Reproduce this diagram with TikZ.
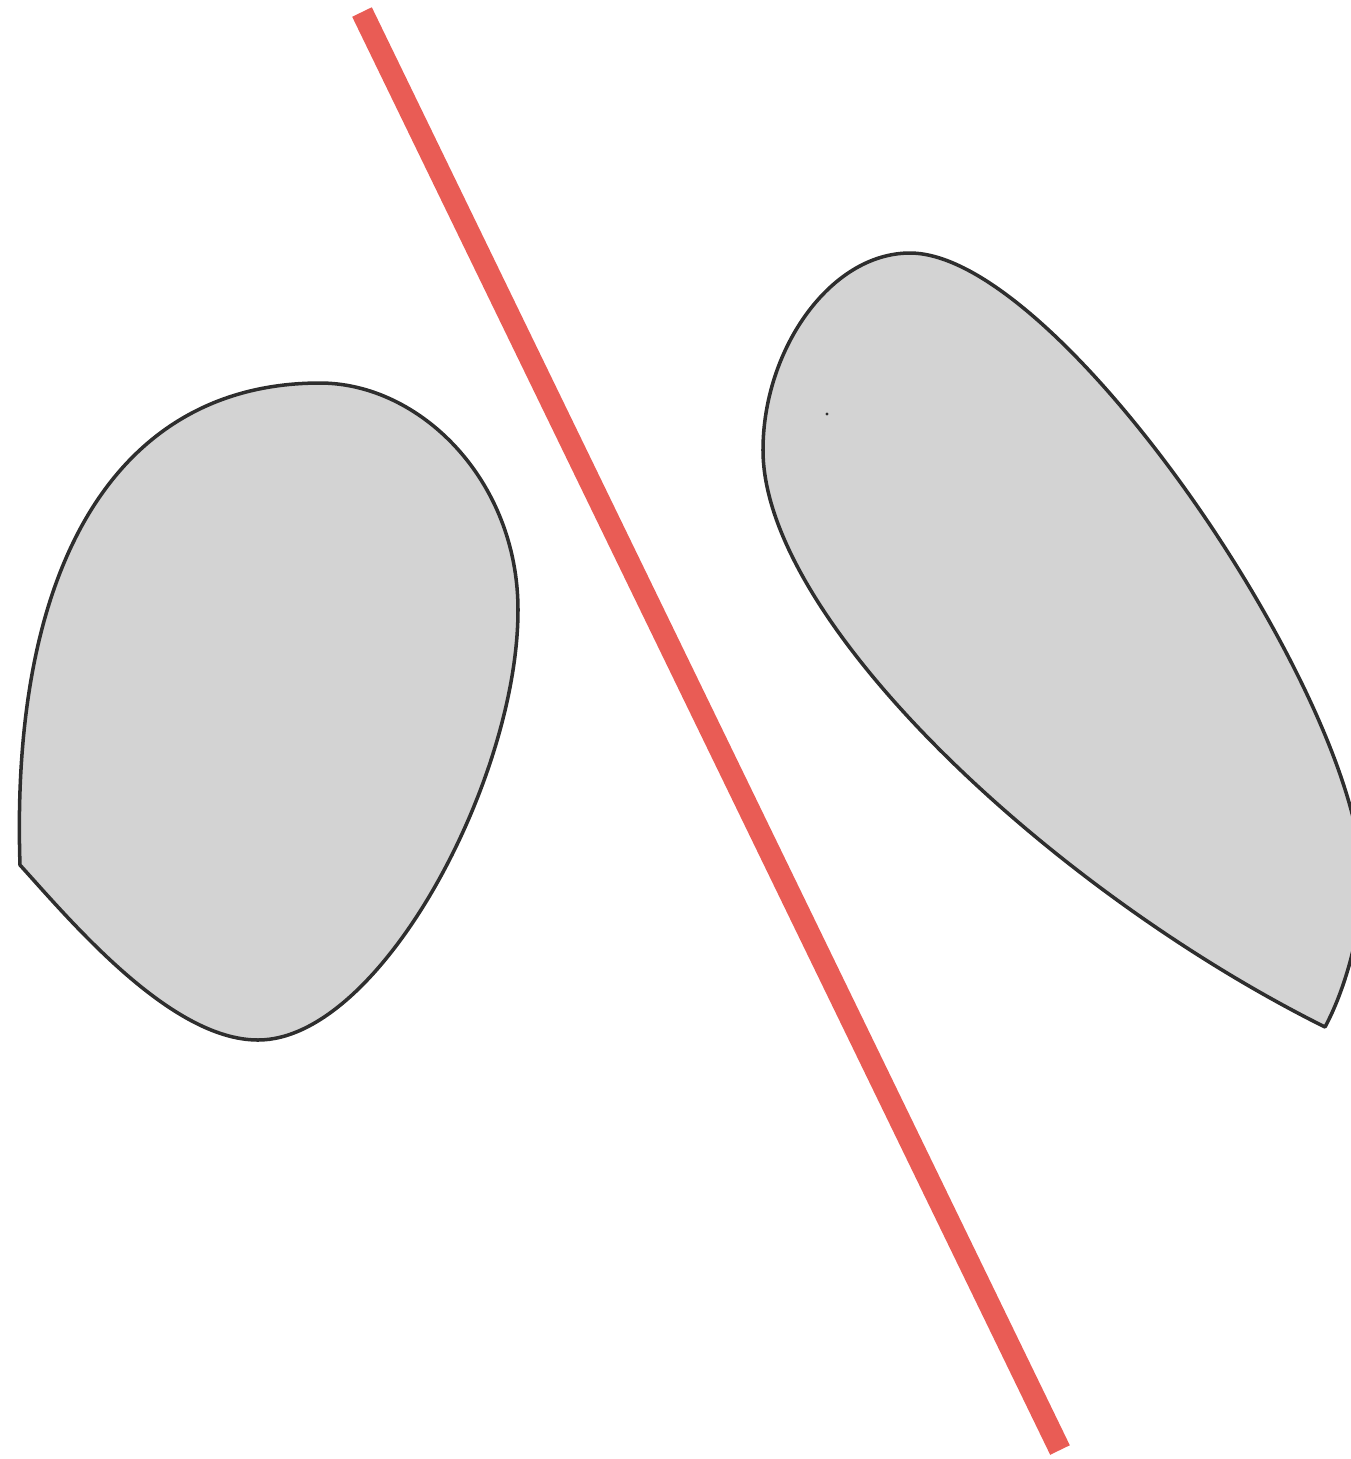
\documentclass[tikz,border=0pt]{standalone}
\usepackage{tikz}

\definecolor{blobgray}{HTML}{D3D3D3}
\definecolor{blobedge}{HTML}{2E2E2E}
\definecolor{cutred}{HTML}{E95C55}

\begin{document}
\begin{tikzpicture}
[
	x=0.01cm, y=-0.01cm,
	blob/.style={fill=blobgray,draw=blobedge,line width=1pt,line join=round},
	cutline/.style={draw=cutred,line width=6.2pt}
]
	\useasboundingbox (0,0) rectangle (1351,1459);

	% left set
	\path[blob] (20,865)
		.. controls (10,560) and (120,383) .. (320,383)
		.. controls (420,383) and (518,480) .. (518,610)
		.. controls (518,780) and (380,1040) .. (258,1040)
		.. controls (170,1040) and (70,920) .. (20,865) -- cycle;

	% right set
	\path[blob] (1325,1027)
		.. controls (1345,990) and (1362,930) .. (1362,880)
		.. controls (1362,700) and (1060,253) .. (910,253)
		.. controls (830,253) and (763,350) .. (763,450)
		.. controls (763,620) and (1050,890) .. (1325,1027) -- cycle;
	\fill[blobedge] (827,414) circle (1.6);

	% separating line
	\coordinate (top) at (362,12);
	\coordinate (bot) at (1060,1450);
	\draw[cutline] (top) -- (bot);

\end{tikzpicture}
\end{document}
